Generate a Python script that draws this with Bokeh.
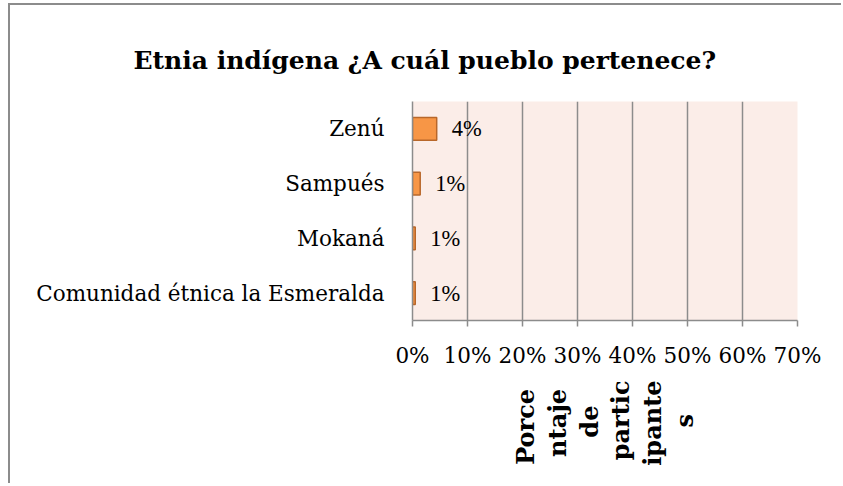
import math
from bokeh.plotting import figure
from bokeh.models import ColumnDataSource, FactorRange, Range1d, NumeralTickFormatter, FixedTicker, LabelSet, Title
from bokeh.embed import file_html
from bokeh.resources import INLINE

categories = ["Comunidad étnica la Esmeralda", "Mokaná", "Sampués", "Zenú"]
values = [0.005, 0.005, 0.014, 0.044]
value_labels = ["1%", "1%", "1%", "4%"]
x_ticks = [0.0, 0.1, 0.2, 0.3, 0.4, 0.5, 0.6, 0.7]
title_text = "Etnia indígena ¿A cuál pueblo pertenece?"
axis_title_lines = ["Porce", "ntaje", "de", "partic", "ipante", "s"]
# non-breaking spaces appended so the wrapped lines sit centred
axis_title_pads = [1, 1, 3, 0, 0, 4]

FONT = "DejaVu Serif"
FS = "21.5px"

source = ColumnDataSource(dict(cat=categories, val=values, lab=value_labels))

p = figure(width=833, height=480, output_backend="svg", toolbar_location=None,
           y_range=FactorRange(*categories, range_padding=0), x_range=Range1d(0, 0.7),
           min_border_left=402, min_border_right=46, min_border_top=96, min_border_bottom=165,
           background_fill_color="#fbede8", border_fill_color="white",
           styles={"border-left": "2px solid #8c8c8c", "border-top": "2px solid #8c8c8c",
                   "margin-left": "8px", "margin-top": "3px"})
p.outline_line_color = None

p.hbar(y="cat", right="val", left=0, height=0.42, source=source,
       fill_color="#f79646", line_color="#b8672a", line_width=1.5)

labels = LabelSet(x="val", y="cat", text="lab", source=source, x_offset=15,
                  text_align="left", text_baseline="middle", text_font=FONT,
                  text_font_size="22.5px", text_color="black")
p.add_layout(labels)

p.xaxis.ticker = FixedTicker(ticks=x_ticks)
p.xaxis.formatter = NumeralTickFormatter(format="0%")
p.xaxis.major_label_text_font = FONT
p.xaxis.major_label_text_font_size = FS
p.xaxis.major_label_text_color = "black"
p.xaxis.major_label_standoff = 16
p.xaxis.axis_line_color = "#8c8c8c"
p.xaxis.axis_line_width = 1.5
p.xaxis.major_tick_line_color = "#8c8c8c"
p.xaxis.major_tick_line_width = 1.5
p.xaxis.major_tick_out = 6
p.xaxis.major_tick_in = 0
p.xaxis.minor_tick_line_color = None

xa = p.xaxis[0]
xa.axis_label = "\n".join(t + "\u00a0" * n for t, n in zip(axis_title_lines, axis_title_pads))
xa.axis_label_text_font = FONT
xa.axis_label_text_font_style = "bold"
xa.axis_label_text_font_size = "24px"
xa.axis_label_text_color = "black"
xa.axis_label_text_align = "center"
xa.axis_label_standoff = 10
xa.axis_label_text_line_height = 1.1
if "axis_label_orientation" in xa.properties():
    xa.axis_label_orientation = math.pi / 2

p.yaxis.major_label_text_font = FONT
p.yaxis.major_label_text_font_size = FS
p.yaxis.major_label_text_color = "black"
p.yaxis.major_label_standoff = 22
p.yaxis.axis_line_color = "#8c8c8c"
p.yaxis.axis_line_width = 1.5
p.yaxis.major_tick_line_color = None
p.yaxis.minor_tick_line_color = None

p.xgrid.ticker = FixedTicker(ticks=x_ticks)
p.xgrid.grid_line_color = "#8c8c8c"
p.xgrid.grid_line_width = 1.5
p.ygrid.grid_line_color = None

title = Title(text=title_text, align="left", offset=-279, standoff=54,
              text_font=FONT, text_font_style="bold", text_font_size="25px",
              text_color="black", vertical_align="bottom")
p.add_layout(title, "above")

open("out.html", "w").write(file_html(p, INLINE))
